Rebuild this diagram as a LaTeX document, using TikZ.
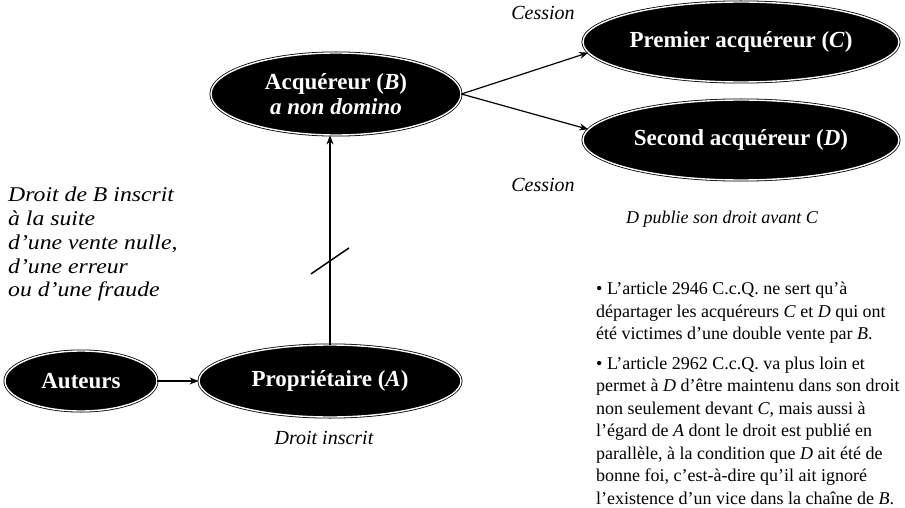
\documentclass[tikz,border=0pt]{standalone}
\usepackage{fontspec}
\setmainfont{Liberation Serif}
\newfontfamily\wideserif[FakeStretch=1.13]{Liberation Serif}
\usetikzlibrary{shapes.geometric,arrows.meta,calc}
\begin{document}
\begin{tikzpicture}[x=1pt,y=-1pt,
  oval/.style={ellipse, fill=black, draw=black, line width=0.8pt, double=white, double distance=1.4pt,
    text=white, font=\fontsize{23}{25}\selectfont\bfseries, inner sep=0pt, align=center},
  lbl/.style={font=\fontsize{20}{24}\selectfont\itshape, inner sep=0pt, align=left},
  arr/.style={-{Stealth[length=9pt,width=7pt]}, line width=1.2pt},
  body/.style={font=\fontsize{18}{22.5}\selectfont, inner sep=0pt, align=left, anchor=north west}
]
\useasboundingbox (0,0) rectangle (905,508);

\node[oval, minimum width=250pt, minimum height=82pt] (B) at (336,94) {Acquéreur (\textit{B})\\\textit{a non domino}};
\node[oval, minimum width=316pt, minimum height=80pt] (C) at (741,42) {Premier acquéreur (\textit{C})};
\node[oval, minimum width=316pt, minimum height=80pt] (D) at (741,140) {Second acquéreur (\textit{D})};
\node[oval, minimum width=152pt, minimum height=60pt] (Au) at (81,381) {Auteurs};
\node[oval, minimum width=262pt, minimum height=72pt] (A) at (330,381) {Propriétaire (\textit{A})};

\draw[arr] (Au) -- (A);
\draw[arr] (A.north) -- (A.north |- B.south);
\coordinate (m) at ($(A.north |- B.south)!0.6!(A.north)$);
\draw[line width=1.5pt] ([shift={(-19,13)}]m) -- ([shift={(19,-13)}]m);
\draw[arr] (B.east) -- (C.184);
\draw[arr] (B.east) -- (D.176);

\node[lbl] (ces1) at (543,13) {Cession};
\node[lbl] (ces2) at (543,185) {Cession};
\node[lbl, font=\fontsize{18}{22}\selectfont\itshape] (pub) at (722,219) {D publie son droit avant C};
\node[lbl, anchor=north west, font=\fontsize{21}{23.75}\wideserif\itshape] (left) at (8,187) {Droit de B inscrit\\à la suite\\d’une vente nulle,\\d’une erreur\\ou d’une fraude};
\node[lbl] (ins) at (324,438) {Droit inscrit};

\node[body] (txt) at (596,282) {• L’article 2946 C.c.Q. ne sert qu’à\\
départager les acquéreurs \textit{C} et \textit{D} qui ont\\
été victimes d’une double vente par \textit{B}.\\[7pt]
• L’article 2962 C.c.Q. va plus loin et\\
permet à \textit{D} d’être maintenu dans son droit\\
non seulement devant \textit{C}, mais aussi à\\
l’égard de \textit{A} dont le droit est publié en\\
parallèle, à la condition que \textit{D} ait été de\\
bonne foi, c’est-à-dire qu’il ait ignoré\\
l’existence d’un vice dans la chaîne de \textit{B}.};
\end{tikzpicture}
\end{document}
